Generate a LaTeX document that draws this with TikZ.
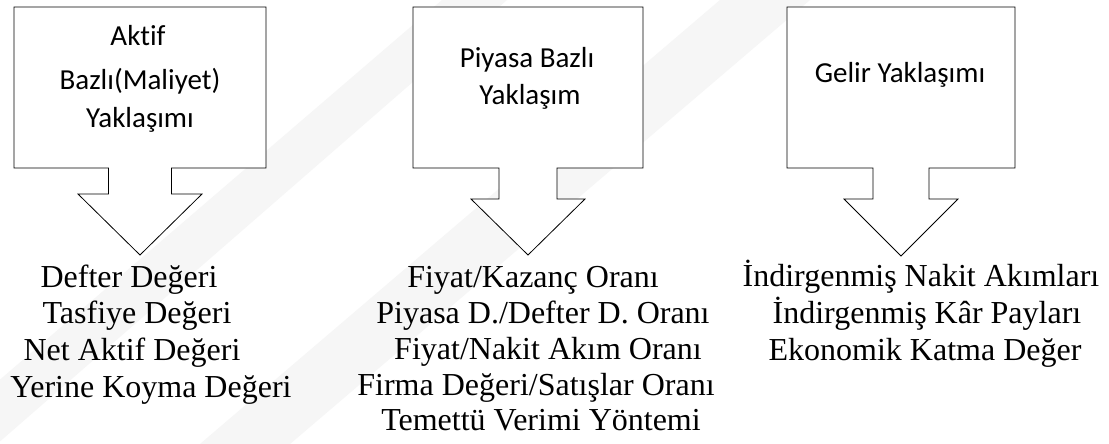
\documentclass[tikz,border=0pt]{standalone}
\usepackage{fontspec}
\setmainfont{Liberation Serif}
\newfontfamily\calfont[Ligatures=CommonOff]{Carlito}
\begin{document}
\begin{tikzpicture}[x=1pt,y=-1pt,
  callout/.style={draw=black,line width=0.8pt,fill=white,line join=miter},
  boxtext/.style={anchor=base,inner sep=0pt,font=\calfont\fontsize{29}{35}\selectfont},
  itemtext/.style={anchor=base,inner sep=0pt,font=\fontsize{32}{37}\selectfont},
  wmark/.style={fill=gray!7,draw=none}]
\useasboundingbox (0,0) rectangle (1109,444);
\fill[white] (0,0) rectangle (1109,444);
% faint watermark bands
\fill[wmark] (442,0) -- (507,0) -- (-3,444) -- (-75,444) -- cycle;
\fill[wmark] (720,0) -- (810,0) -- (290,444) -- (200,444) -- cycle;
% callout 1
\draw[callout] (14,7) -- (266,7) -- (266,168) -- (171.5,168) -- (171.5,194) -- (202,194)
  -- (140,255) -- (78,194) -- (108.5,194) -- (108.5,168) -- (14,168) -- cycle;
% callout 2
\draw[callout] (413,7) -- (643,7) -- (643,168) -- (557,168) -- (557,199) -- (585,199)
  -- (528,255) -- (471,199) -- (499,199) -- (499,168) -- (413,168) -- cycle;
% callout 3
\draw[callout] (787,7) -- (1015,7) -- (1015,168) -- (929,168) -- (929,199) -- (958,199)
  -- (901,256) -- (844,199) -- (873,199) -- (873,168) -- (787,168) -- cycle;
% box texts
\node[boxtext] (a1) at (138,46) {Aktif};
\node[boxtext] (a2) at (140,89) {Bazlı(Maliyet)};
\node[boxtext] (a3) at (140,128) {Yaklaşımı};
\node[boxtext] (p1) at (527,68) {Piyasa Bazlı};
\node[boxtext] (p2) at (530,104) {Yaklaşım};
\node[boxtext] (g1) at (900,82) {Gelir Yaklaşımı};
% left list
\node[itemtext] (l1) at (129,287) {Defter Değeri};
\node[itemtext] (l2) at (137,323.5) {Tasfiye Değeri};
\node[itemtext] (l3) at (132,360) {Net Aktif Değeri};
\node[itemtext] (l4) at (151,397) {Yerine Koyma Değeri};
% middle list
\node[itemtext] (m1) at (533,287) {Fiyat/Kazanç Oranı};
\node[itemtext] (m2) at (543,323) {Piyasa D./Defter D. Oranı};
\node[itemtext] (m3) at (548,359) {Fiyat/Nakit Akım Oranı};
\node[itemtext] (m4) at (536,395) {Firma Değeri/Satışlar Oranı};
\node[itemtext] (m5) at (541,430) {Temettü Verimi Yöntemi};
% right list
\node[itemtext] (r1) at (921,286) {İndirgenmiş Nakit Akımları};
\node[itemtext] (r2) at (927,323) {İndirgenmiş Kâr Payları};
\node[itemtext] (r3) at (925,360) {Ekonomik Katma Değer};
\end{tikzpicture}
\end{document}
